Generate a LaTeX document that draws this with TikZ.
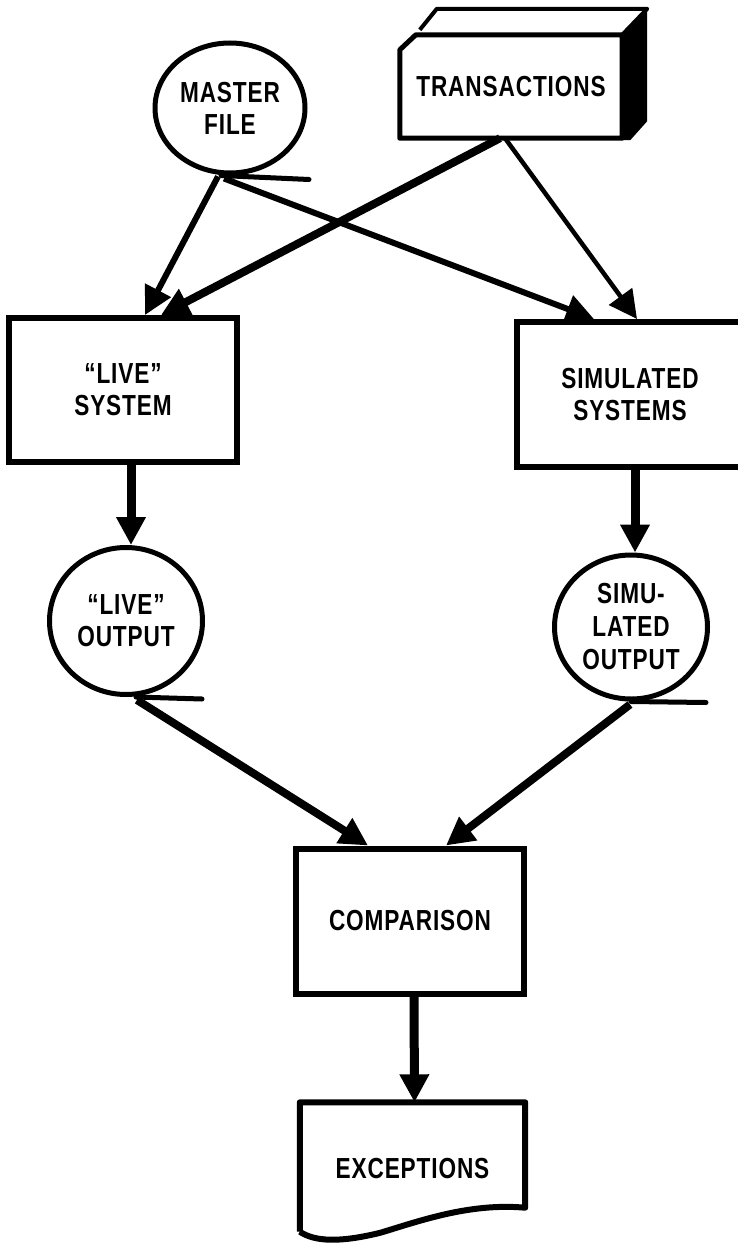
\documentclass[tikz,border=0pt]{standalone}
\usepackage{fontspec}
\setmainfont{Liberation Sans}[FakeStretch=0.78,LetterSpace=3]
\usetikzlibrary{arrows.meta,calc,shapes.geometric}
\begin{document}
\begin{tikzpicture}[x=1pt,y=-1pt,
  font=\fontsize{29}{32}\bfseries,
  circ/.style={ellipse,draw,line width=5pt,align=center,inner sep=0pt},
  boxnode/.style={rectangle,draw,line width=6pt,align=center,inner sep=0pt},
  tail/.style={line width=5pt,line cap=round},
  flow/.style={line width=#1,-{Triangle[length=28pt,width=28pt]}},
  flow/.default=8pt]
\useasboundingbox (0,0) rectangle (737,1246);

% sources
\node[circ,minimum width=150pt,minimum height=130pt] (master) at (230,108) {MASTER\\FILE};
\node[rectangle,minimum width=222pt,minimum height=103pt,align=center,inner sep=0pt] (trans) at (511,86.5) {TRANSACTIONS};
% card deck: chamfered front face, top face and dark side face
\draw[line width=5pt,line join=round]
  (trans.south west) -- ($(trans.north west)+(0,15)$) -- ($(trans.north west)+(16,0)$)
  -- (trans.north east) -- (trans.south east) -- cycle;
\draw[line width=4pt,line join=round]
  ($(trans.north west)+(20,-5)$) -- ($(trans.north west)+(37,-26)$)
  -- ($(trans.north east)+(25,-26)$) -- (trans.north east);
\fill ($(trans.north east)+(-1,0)$) -- ($(trans.north east)+(25,-26)$)
  -- ($(trans.south east)+(25,-17)$) -- ($(trans.south east)+(8,2)$) -- ($(trans.south east)+(-1,2)$) -- cycle;

% processes
\node[boxnode,minimum width=228pt,minimum height=144pt] (live) at (123,390) {``LIVE''\\SYSTEM};
\node[boxnode,minimum width=226pt,minimum height=145pt] (sim) at (630,394.5) {SIMULATED\\SYSTEMS};

% outputs
\node[circ,minimum width=153pt,minimum height=147pt] (liveout) at (126,621) {``LIVE''\\OUTPUT};
\node[circ,minimum width=153pt,minimum height=144pt,font=\fontsize{29}{33}\bfseries] (simout) at (631,627) {SIMU-\\LATED\\OUTPUT};

\node[boxnode,minimum width=228pt,minimum height=145pt] (comp) at (410,921) {COMPARISON};
\node[rectangle,minimum width=225pt,minimum height=133pt] (exc) at (412.5,1169) {EXCEPTIONS};
\draw[line width=6pt,line join=round]
  ($(exc.south west)+(0,-4)$) -- (exc.north west) -- (exc.north east)
  -- ($(exc.south east)+(0,-28)$)
  .. controls ($(exc.south east)+(-55,-33)$) and ($(exc.south east)+(-105,-15)$) .. ($(exc.south)+(-32,-3)$)
  .. controls ($(exc.south west)+(40,7)$) and ($(exc.south west)+(15,6)$) .. ($(exc.south west)+(0,-4)$);

% tape tails
\draw[tail] ($(master.south)+(-9,0)$) -- ++(88,4);
\draw[tail] ($(liveout.south)+(10,0)$) -- ++(66,2);
\draw[tail] (simout.south) -- ++(75,1);

% flows
\draw[flow=6pt] ($(master.south)+(-12,1)$) -- ([xshift=22pt]live.north);
\draw[flow=8pt] ($(trans.south)+(-11,0)$) -- ([xshift=38pt]live.north);
\draw[flow=6pt] ($(master.south)+(-6,3)$) -- ([xshift=-36pt]sim.north);
\draw[flow=4.5pt] ($(trans.south)+(-6,0)$) -- ([xshift=7pt]sim.north);
\draw[flow=9pt] ($(live.south)+(8,0)$) -- ($(liveout.north)+(5,0)$);
\draw[flow=9pt] ($(sim.south)+(5,0)$) -- ($(simout.north)+(4,0)$);
\draw[flow=8pt] ($(liveout.south)+(11,3)$) -- ([xshift=-42pt]comp.north);
\draw[flow=8pt] ($(simout.south)+(-1,3)$) -- ([xshift=36pt]comp.north);
\draw[flow=9pt] ([xshift=4pt]comp.south) -- ([xshift=2pt]exc.north);
\end{tikzpicture}
\end{document}
